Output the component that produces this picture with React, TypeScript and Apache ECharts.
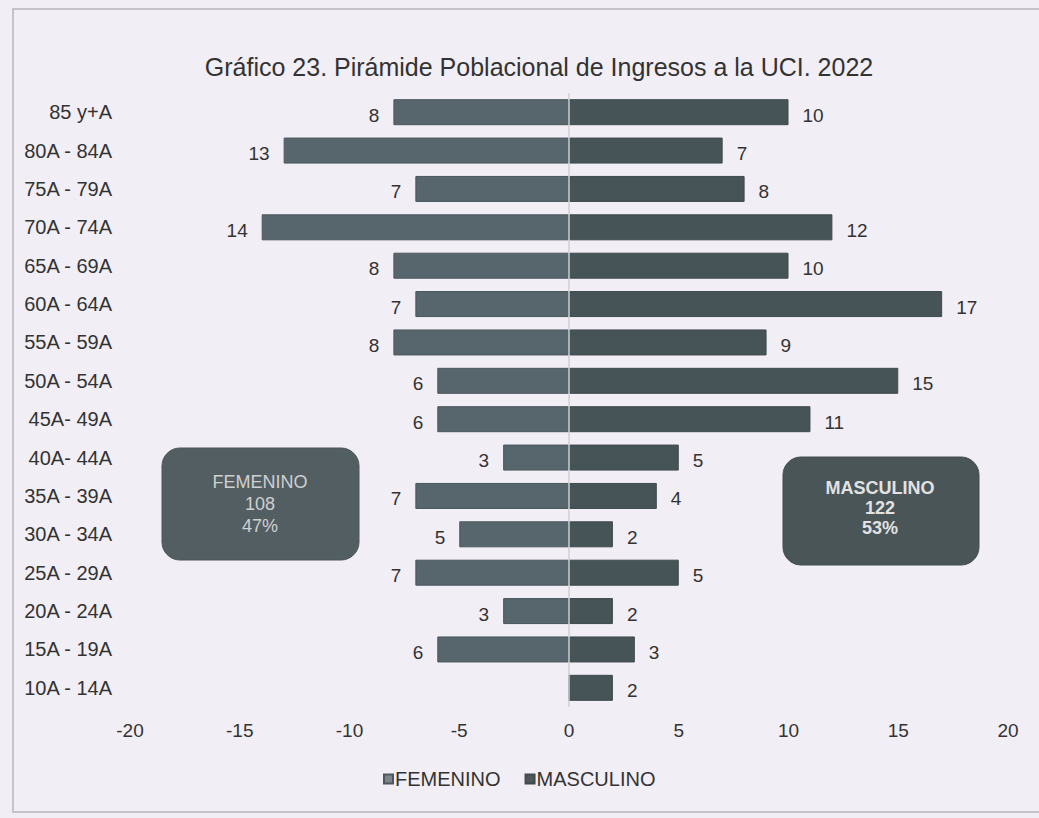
import React, { useEffect, useRef } from "react";
import * as echarts from "echarts";

const categories = [
  "85 y+A", "80A - 84A", "75A - 79A", "70A - 74A", "65A - 69A", "60A - 64A",
  "55A - 59A", "50A - 54A", "45A- 49A", "40A- 44A", "35A - 39A", "30A - 34A",
  "25A - 29A", "20A - 24A", "15A - 19A", "10A - 14A",
];
const femenino = [8, 13, 7, 14, 8, 7, 8, 6, 6, 3, 7, 5, 7, 3, 6, 0];
const masculino = [10, 7, 8, 12, 10, 17, 9, 15, 11, 5, 4, 2, 5, 2, 3, 2];
const xTicks = { min: -20, max: 20, interval: 5 };
const titleText = "Gráfico 23. Pirámide Poblacional de Ingresos a la UCI. 2022";

const FONT = "'Liberation Sans', Arial, sans-serif";
const BG = "#f2eef5";
const FEM_COLOR = "#56666c";
const MAS_COLOR = "#465357";

export default function App() {
  const ref = useRef<HTMLDivElement>(null);
  useEffect(() => {
    if (!ref.current) return;
    const chart = echarts.init(ref.current, undefined, { renderer: "svg" });
    const femTotal = femenino.reduce((a, b) => a + b, 0);
    const masTotal = masculino.reduce((a, b) => a + b, 0);
    const all = femTotal + masTotal;
    const femPct = Math.round((femTotal / all) * 100);
    const masPct = Math.round((masTotal / all) * 100);

    chart.setOption({
      animation: false,
      backgroundColor: BG,
      textStyle: { fontFamily: FONT },
      grid: { left: 130, right: 31, top: 93, bottom: 111, containLabel: false },
      legend: {
        bottom: 24,
        left: 378,
        itemWidth: 9,
        itemHeight: 9,
        itemGap: 24,
        icon: "rect",
        textStyle: { fontSize: 20, color: "#333", fontFamily: FONT, padding: [0, 0, 0, -3] },
        data: [
          { name: "FEMENINO", itemStyle: { color: "#7d8388" } },
          { name: "MASCULINO", itemStyle: { color: "#4f575b" } },
        ],
      },
      xAxis: {
        type: "value",
        min: xTicks.min,
        max: xTicks.max,
        interval: xTicks.interval,
        axisLine: { show: false },
        axisTick: { show: false },
        splitLine: { show: false },
        axisLabel: { fontSize: 19, color: "#333", margin: 14, fontFamily: FONT },
      },
      yAxis: {
        type: "category",
        data: categories,
        inverse: true,
        axisLine: { show: false },
        axisTick: { show: false },
        axisLabel: { fontSize: 20, color: "#333", margin: 18, fontFamily: FONT },
      },
      series: [
        {
          name: "FEMENINO",
          type: "bar",
          data: femenino.map((v) => -v),
          barWidth: 26,
          barGap: "-100%",
          itemStyle: { color: FEM_COLOR, borderColor: "#4a585d", borderWidth: 1 },
          label: {
            show: true,
            position: "left",
            distance: 14,
            offset: [0, 3],
            fontSize: 19,
            color: "#333",
            fontFamily: FONT,
            formatter: (p: any) => (p.value === 0 ? "" : String(Math.abs(p.value))),
          },
          markLine: {
            silent: true,
            symbol: "none",
            z: 10,
            label: { show: false },
            lineStyle: { color: "#cdd0d6", width: 1.5, type: "solid" },
            data: [{ xAxis: 0 }],
          },
        },
        {
          name: "MASCULINO",
          type: "bar",
          data: masculino,
          barWidth: 26,
          itemStyle: { color: MAS_COLOR, borderColor: "#3e4a4e", borderWidth: 1 },
          label: {
            show: true,
            position: "right",
            distance: 14,
            offset: [0, 3],
            fontSize: 19,
            color: "#333",
            fontFamily: FONT,
          },
        },
      ],
      graphic: [
        {
          type: "rect",
          silent: true,
          shape: { x: 13, y: 9, width: 1040, height: 803 },
          style: { fill: "none", stroke: "#c6c2ca", lineWidth: 2 },
        },
        {
          type: "text",
          x: 539,
          y: 67,
          style: {
            text: titleText,
            fontSize: 25,
            fill: "#333",
            fontFamily: FONT,
            textAlign: "center",
            textVerticalAlign: "middle",
          },
        },
        {
          type: "rect",
          shape: { x: 162, y: 448, width: 197, height: 112, r: 18 },
          style: { fill: "#535e62", stroke: "#4a5458", lineWidth: 1 },
        },
        {
          type: "text",
          x: 260,
          y: 504,
          style: {
            text: `FEMENINO\n${femTotal}\n${femPct}%`,
            fontSize: 18,
            lineHeight: 22,
            fill: "#cfcfcf",
            fontFamily: FONT,
            textAlign: "center",
            textVerticalAlign: "middle",
          },
        },
        {
          type: "rect",
          shape: { x: 783, y: 457, width: 196, height: 108, r: 18 },
          style: { fill: "#4a5558", stroke: "#424c4f", lineWidth: 1 },
        },
        {
          type: "text",
          x: 880,
          y: 508,
          style: {
            text: `MASCULINO\n${masTotal}\n${masPct}%`,
            fontSize: 18,
            fontWeight: "bold",
            lineHeight: 20,
            fill: "#e2e2e2",
            fontFamily: FONT,
            textAlign: "center",
            textVerticalAlign: "middle",
          },
        },
      ],
    });
    return () => chart.dispose();
  }, []);
  return (
    <div
      ref={ref}
      style={{ position: "absolute", left: 0, top: 0, width: 1039, height: 818 }}
    />
  );
}
